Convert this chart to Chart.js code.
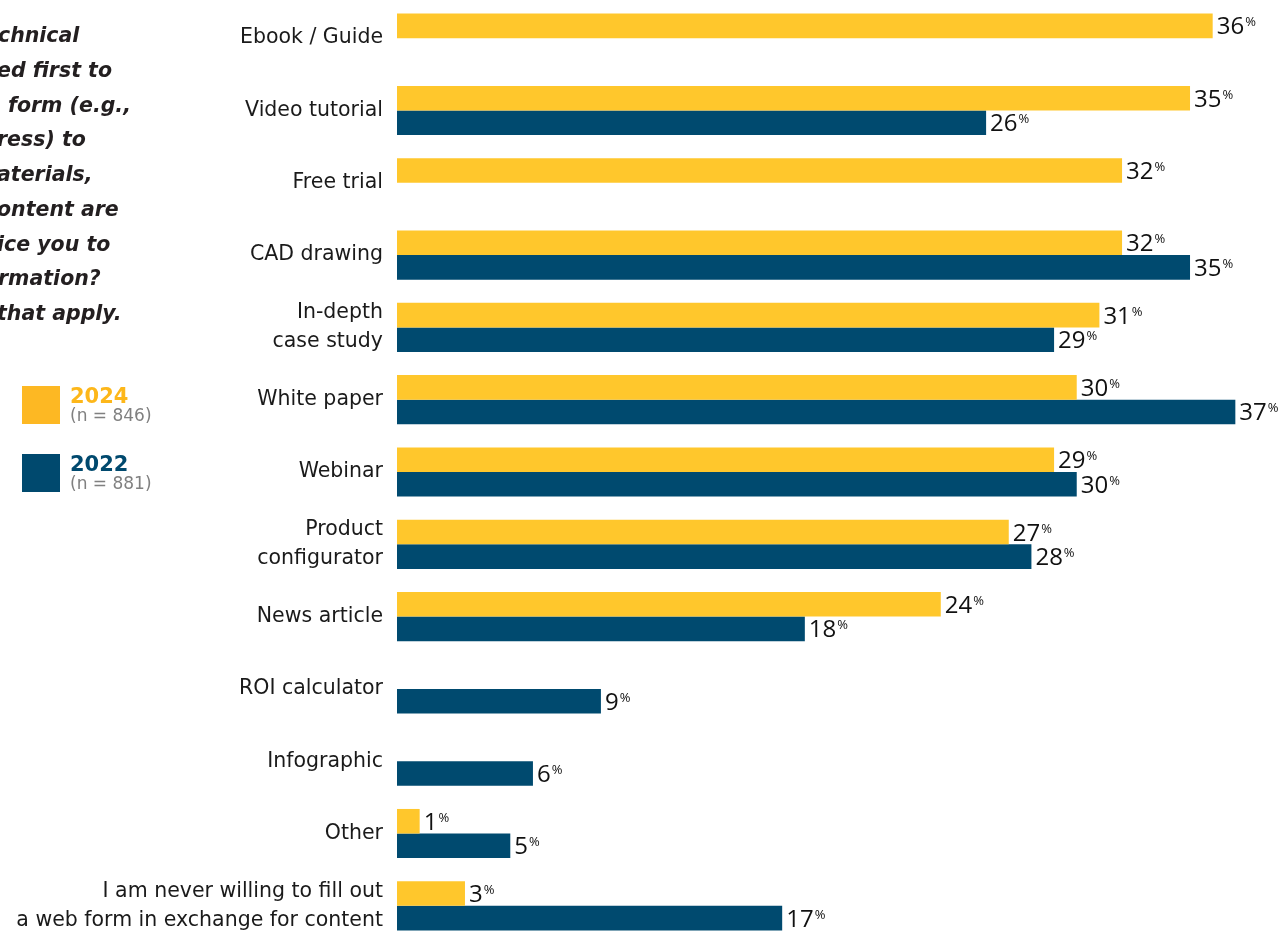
<!DOCTYPE html>
<html>
<head>
<meta charset="utf-8">
<script src="https://cdn.jsdelivr.net/npm/chart.js@4"></script>
<style>
  html, body { margin: 0; padding: 0; background: #fff; overflow: hidden; }
  #wrap { position: absolute; left: 0; top: 0; width: 1283px; height: 944px; }
  #question { position: absolute; left: 0; top: 0; font-family: "DejaVu Sans", sans-serif; font-weight: 700; font-style: italic; font-size: 20.5px; color: #231f20; }
  #question div { position: absolute; white-space: pre; height: 35px; line-height: 35px; }
  .key { position: absolute; left: 22px; font-family: "DejaVu Sans", sans-serif; }
  .key .sw { position: absolute; left: 0; top: 0; width: 38px; height: 38px; }
  .key .yr { position: absolute; left: 48px; top: -2px; font-size: 21px; font-weight: 700; }
  .key .n { position: absolute; left: 48px; top: 19px; font-size: 17px; color: #808080; white-space: nowrap; }
</style>
</head>
<body>
<div id="wrap"><canvas id="chart" width="1283" height="944"></canvas></div>
<div id="question"></div>
<div class="key" style="top:386px"><div class="sw" style="background:#fdb823"></div><div class="yr" style="color:#fdb71a">2024</div><div class="n">(n = 846)</div></div>
<div class="key" style="top:454px"><div class="sw" style="background:#00496e"></div><div class="yr" style="color:#00496e">2022</div><div class="n">(n = 881)</div></div>
<script>
// visible part of the question (cut off on the left in the original)
const questionLines = ['chnical', 'ed first to', 'form (e.g.,', 'ress) to', 'aterials,', 'ontent are', 'ice you to', 'rmation?', 'that apply.'];
const questionLeft = [-2, -3, 8, -3, -3, -3, -3, -2, -3];

const categories = [
  'Ebook / Guide',
  'Video tutorial',
  'Free trial',
  'CAD drawing',
  ['In-depth', 'case study'],
  'White paper',
  'Webinar',
  ['Product', 'configurator'],
  'News article',
  'ROI calculator',
  'Infographic',
  'Other',
  ['I am never willing to fill out', 'a web form in exchange for content']
];
const values2024 = [36, 35, 32, 32, 31, 30, 29, 27, 24, null, null, 1, 3];
const values2022 = [null, 26, null, 35, 29, 37, 30, 28, 18, 9, 6, 5, 17];

const q = document.getElementById('question');
questionLines.forEach((t, i) => {
  const d = document.createElement('div');
  d.textContent = t;
  d.style.left = questionLeft[i] + 'px';
  d.style.top = (18 + i * 34.75) + 'px';
  q.appendChild(d);
});

// number + small raised % after each bar
const valueLabels = {
  id: 'valueLabels',
  afterDatasetsDraw(chart) {
    const ctx = chart.ctx;
    ctx.save();
    ctx.fillStyle = '#111';
    ctx.textAlign = 'left';
    ctx.textBaseline = 'alphabetic';
    chart.data.datasets.forEach((ds, di) => {
      chart.getDatasetMeta(di).data.forEach((el, i) => {
        const v = ds.data[i];
        if (v == null) return;
        const x = el.x + 4;
        ctx.font = '24px "Open Sans"';
        const s = String(v);
        ctx.fillText(s, x, el.y + 8.5);
        const w = ctx.measureText(s).width;
        ctx.font = '13px "Open Sans"';
        ctx.fillText('%', x + w + 1, el.y + 0.5);
      });
    });
    ctx.restore();
  }
};

new Chart(document.getElementById('chart'), {
  type: 'bar',
  data: {
    labels: categories,
    datasets: [
      { label: '2024', data: values2024, backgroundColor: '#ffc72c', barPercentage: 1, categoryPercentage: 0.68 },
      { label: '2022', data: values2022, backgroundColor: '#004a6f', barPercentage: 1, categoryPercentage: 0.68 }
    ]
  },
  options: {
    indexAxis: 'y',
    responsive: false,
    animation: false,
    layout: { padding: { top: 2, bottom: 2, right: 25 } },
    plugins: { legend: { display: false }, tooltip: { enabled: false } },
    scales: {
      x: { display: false, min: 0, max: 38 },
      y: {
        grid: { display: false, drawTicks: false },
        border: { display: false },
        ticks: { padding: 14, color: '#1a1a1a', font: { family: 'DejaVu Sans', size: 20.5, lineHeight: 1.4 } },
        afterFit(scale) {
          scale.width = 397;
          scale.paddingTop = 0;
          scale.paddingBottom = 0;
        }
      }
    }
  },
  plugins: [valueLabels]
});
</script>
</body>
</html>
